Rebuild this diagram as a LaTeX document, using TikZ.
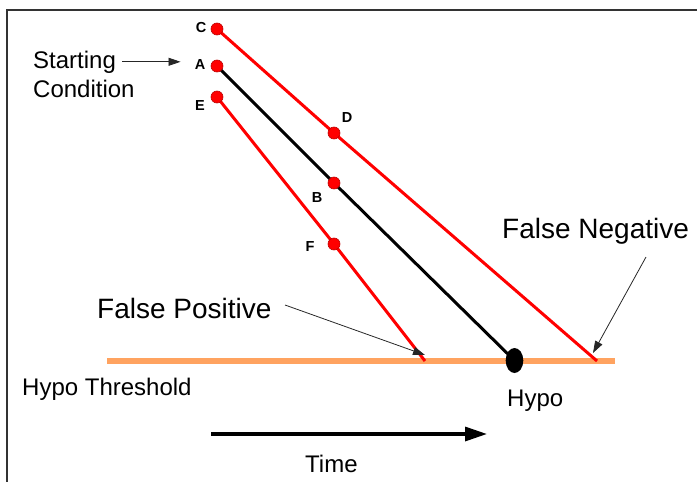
\documentclass[tikz,border=0pt]{standalone}
\usepackage{fontspec}
\setmainfont{Liberation Sans}
\usetikzlibrary{arrows.meta,shapes.geometric}
\pgfdeclarelayer{background}
\pgfsetlayers{background,main}
\definecolor{thr}{RGB}{255,163,96}
\definecolor{frm}{RGB}{51,51,51}
\begin{document}
\begin{tikzpicture}[x=1pt,y=-1pt,
  dot/.style={circle,fill=red,draw=red!75!black,line width=0.6pt,minimum size=12pt,inner sep=0pt},
  lbl/.style={inner sep=0pt,font=\fontsize{14.5}{17}\selectfont\bfseries},
  bigtxt/.style={inner sep=0pt,anchor=base west,font=\fontsize{28}{33}\selectfont},
  txt/.style={inner sep=0pt,anchor=base west,font=\fontsize{24}{29}\selectfont},
  redline/.style={draw=red,line width=3pt},
  blackline/.style={draw=black,line width=3pt},
  thinarrow/.style={draw=black!85,line width=0.8pt,-{Triangle[length=12pt,width=8pt]}},
  timearrow/.style={draw=black,line width=3.3pt,-{Triangle[length=22pt,width=14pt]}}
]
\useasboundingbox (0,0) rectangle (697,482);
% frame
\draw[frm,line width=1.3pt] (7,482) -- (7,10) -- (697,10);

% dots
\node[dot] (C) at (217,29) {};
\node[dot] (A) at (217,66) {};
\node[dot] (E) at (217,97) {};
\node[dot] (D) at (334,133) {};
\node[dot] (B) at (334,183) {};
\node[dot] (F) at (334,244) {};
\node[ellipse,fill=black,inner sep=0pt,minimum width=17.6pt,minimum height=25pt] (hypo) at (514.5,360.5) {};

% labels
\node[lbl] (labC) at (201,28) {C};
\node[lbl] (labA) at (200,65) {A};
\node[lbl] (labE) at (200,106) {E};
\node[lbl] (labD) at (347,118) {D};
\node[lbl] (labB) at (317,198) {B};
\node[lbl] (labF) at (310,247) {F};

% coordinates
\coordinate (endC) at (597,361);
\coordinate (endE) at (425,361);
\coordinate (thrL) at (107,360.5);
\coordinate (thrR) at (615,360.5);
\coordinate (tS) at (211,434);
\coordinate (tE) at (487,434);
\coordinate (fpS) at (285,305);
\coordinate (fpE) at (425,355);
\coordinate (fnS) at (646,257);
\coordinate (fnE) at (593,353);

\begin{pgfonlayer}{background}
  \draw[thr,line width=6pt] (thrL) -- (thrR);
  \draw[redline] (C.center) -- (D.center) -- (endC);
  \draw[blackline] (A.center) -- (B.center) -- (hypo.center);
  \draw[redline] (E.center) -- (F.center) -- (endE);
\end{pgfonlayer}

% texts
\node[txt] (starting) at (33,68) {Starting};
\node[txt] (condition) at (33,97) {Condition};
\node[bigtxt] (fp) at (97,318) {False Positive};
\node[bigtxt] (fn) at (502,238) {False Negative};
\node[txt] (thrtxt) at (22,395) {Hypo Threshold};
\node[txt] (hypotxt) at (507,406) {Hypo};
\node[txt] (time) at (305,472) {Time};

% arrows
\draw[thinarrow] ([xshift=6pt]starting.east) -- ([xshift=-14pt]starting.east -| labA.west);
\draw[thinarrow] (fpS) -- (fpE);
\draw[thinarrow] (fnS) -- (fnE);
\draw[timearrow] (tS) -- (tE);
\end{tikzpicture}
\end{document}
